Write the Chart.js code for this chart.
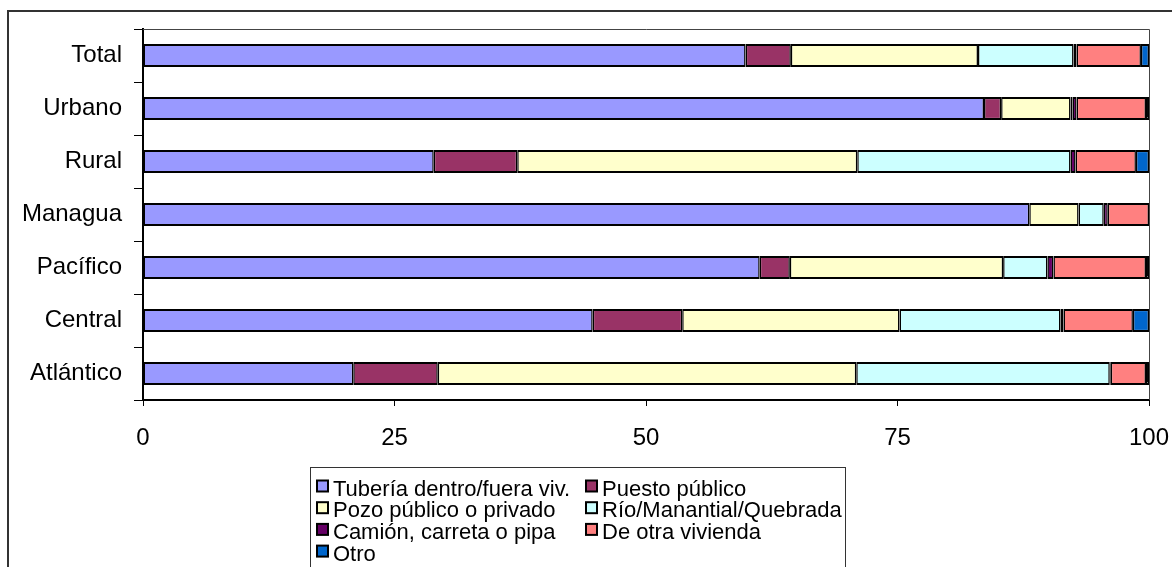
<!DOCTYPE html>
<html>
<head>
<meta charset="utf-8">
<script src="https://cdn.jsdelivr.net/npm/chart.js@4/dist/chart.umd.min.js"></script>
<style>
  html, body { margin: 0; padding: 0; background: #fff; overflow: hidden; }
  #wrap { position: relative; width: 1172px; height: 567px; }
</style>
</head>
<body>
<div id="wrap"><canvas id="c" width="1172" height="567"></canvas></div>
<script>
// Fuente de abastecimiento de agua por área y región (%)
const categories = ['Total', 'Urbano', 'Rural', 'Managua', 'Pacífico', 'Central', 'Atlántico'];
const seriesNames = [
  'Tubería dentro/fuera viv.',
  'Puesto público',
  'Pozo público o privado',
  'Río/Manantial/Quebrada',
  'Camión, carreta o pipa',
  'De otra vivienda',
  'Otro'
];
const tuberia      = [59.9, 83.6, 28.9, 88.1, 61.3, 44.7, 20.9];
const puesto       = [ 4.5,  1.7,  8.3,  0.0,  3.0,  8.9,  8.4];
const pozo         = [18.6,  6.9, 33.8,  4.9, 21.2, 21.6, 41.6];
const rio          = [ 9.5,  0.2, 21.2,  2.5,  4.4, 16.0, 25.2];
const camion       = [ 0.3,  0.4,  0.5,  0.4,  0.6,  0.3,  0.1];
const otraVivienda = [ 6.4,  6.9,  6.0,  4.1,  9.2,  6.9,  3.5];
const otro         = [ 0.8,  0.3,  1.3,  0.0,  0.3,  1.6,  0.3];
const xTicks = [0, 25, 50, 75, 100];

const seriesValues = [tuberia, puesto, pozo, rio, camion, otraVivienda, otro];
const seriesColors = ['#9999FF', '#993366', '#FFFFCC', '#CCFFFF', '#660066', '#FF8080', '#0066CC'];

const FONT = "'Liberation Sans', Arial, sans-serif";

// Outer frame, plot-area frame and the two-column boxed legend
const decorations = {
  id: 'decorations',
  beforeDraw(chart) {
    const ctx = chart.ctx;
    ctx.save();
    ctx.fillStyle = '#fff';
    ctx.fillRect(0, 0, chart.width, chart.height);
    ctx.strokeStyle = '#333';
    ctx.lineWidth = 2;
    ctx.strokeRect(8, 11, chart.width + 20, chart.height + 20);
    ctx.restore();
  },
  afterDraw(chart) {
    const ctx = chart.ctx;
    const a = chart.chartArea;
    ctx.save();
    ctx.strokeStyle = '#444';
    ctx.lineWidth = 1;
    ctx.beginPath();
    ctx.moveTo(a.left, a.top + 0.5);
    ctx.lineTo(a.right + 0.5, a.top + 0.5);
    ctx.lineTo(a.right + 0.5, a.bottom);
    ctx.stroke();

    // legend
    ctx.strokeStyle = '#333';
    ctx.strokeRect(310.5, 467.5, 535, 200);
    const colX = [317, 586];
    const textGap = 16;
    const firstBaseline = 495.5;
    const rowStep = 21.7;
    ctx.font = '22px ' + FONT;
    ctx.textBaseline = 'alphabetic';
    ctx.textAlign = 'left';
    chart.data.datasets.forEach((ds, i) => {
      const col = i % 2;
      const row = Math.floor(i / 2);
      const x = colX[col];
      const base = firstBaseline + row * rowStep;
      const sy = base - 15;
      ctx.fillStyle = ds.backgroundColor;
      ctx.fillRect(x, sy, 11, 11);
      ctx.strokeStyle = '#000';
      ctx.lineWidth = 2;
      ctx.strokeRect(x, sy, 11, 11);
      ctx.fillStyle = '#000';
      ctx.fillText(ds.label, x + textGap, base);
    });
    ctx.restore();
  }
};

new Chart(document.getElementById('c'), {
  type: 'bar',
  data: {
    labels: categories,
    datasets: seriesNames.map((name, i) => ({
      label: name,
      data: seriesValues[i],
      backgroundColor: seriesColors[i],
      borderColor: '#000',
      borderWidth: { top: 2, bottom: 2, left: 1.5, right: 1.5 },
      borderSkipped: false,
      categoryPercentage: 1,
      barPercentage: 0.43
    }))
  },
  options: {
    indexAxis: 'y',
    responsive: false,
    animation: false,
    devicePixelRatio: 1,
    layout: { padding: { top: 29, right: 23, left: 0, bottom: 0 } },
    plugins: {
      legend: { display: false },
      tooltip: { enabled: false }
    },
    scales: {
      x: {
        stacked: true,
        min: 0,
        max: 100,
        afterBuildTicks: s => { s.ticks = xTicks.map(v => ({ value: v })); },
        afterFit: s => { s.height = 167; s.paddingLeft = 0; s.paddingRight = 0; },
        grid: { drawOnChartArea: false, drawTicks: true, tickLength: 6, color: '#000', lineWidth: 1 },
        border: { color: '#000', width: 2 },
        ticks: { color: '#000', font: { family: FONT, size: 24 }, padding: 18, maxRotation: 0 }
      },
      y: {
        stacked: true,
        afterFit: s => { s.width = 143; s.paddingTop = 0; s.paddingBottom = 0; },
        grid: { offset: true, drawOnChartArea: false, drawTicks: true, tickLength: 9, color: '#000', lineWidth: 1 },
        border: { color: '#000', width: 2 },
        ticks: { color: '#000', font: { family: FONT, size: 24 }, padding: 12 }
      }
    }
  },
  plugins: [decorations]
});
</script>
</body>
</html>
